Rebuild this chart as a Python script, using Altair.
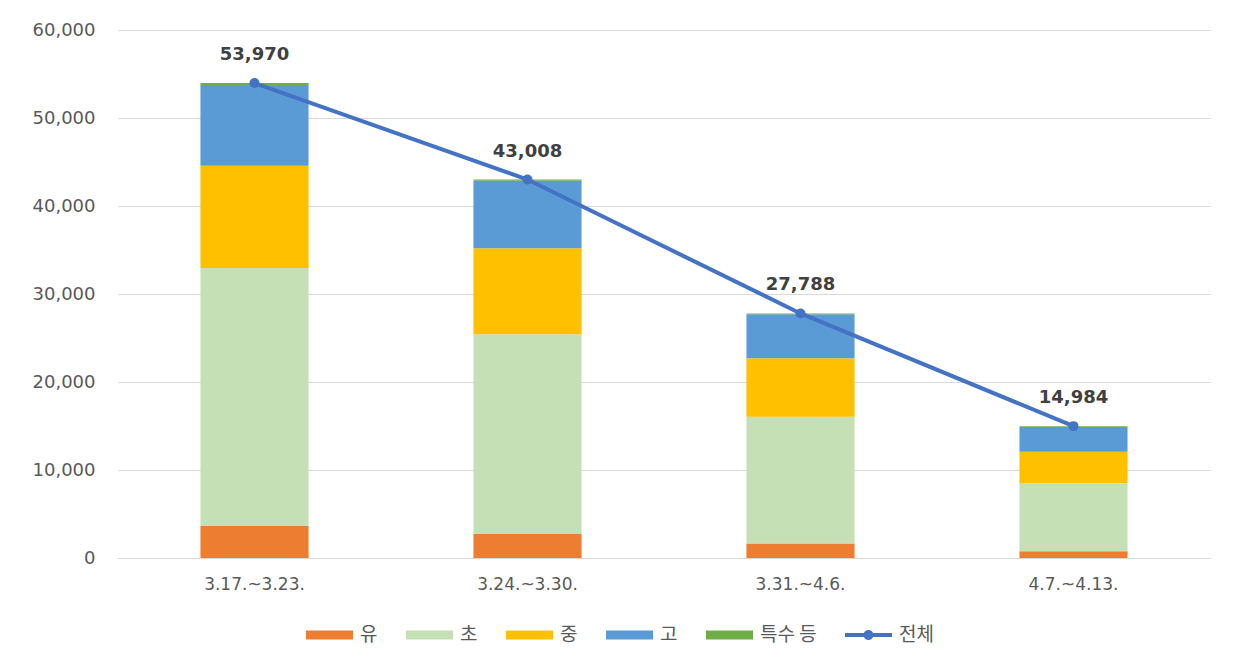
import altair as alt
import pandas as pd

periods = ["3.17.~3.23.", "3.24.~3.30.", "3.31.~4.6.", "4.7.~4.13."]
series = ["유", "초", "중", "고", "특수 등"]
total_name = "전체"
yu = [3640, 2730, 1640, 760]
cho = [29310, 22690, 14420, 7730]
jung = [11630, 9770, 6640, 3590]
go = [9170, 7680, 5000, 2820]
special = [220, 138, 88, 84]
totals = [53970, 43008, 27788, 14984]
y_ticks = [0, 10000, 20000, 30000, 40000, 50000, 60000]

bar_colors = ["#ED7D31", "#C5E0B4", "#FFC000", "#5B9BD5", "#70AD47"]
line_color = "#4472C4"

values_by_series = [yu, cho, jung, go, special]
rows = []
for si, (s, vals) in enumerate(zip(series, values_by_series)):
    for p, v in zip(periods, vals):
        rows.append({"period": p, "series": s, "value": v, "idx": si})
bar_df = pd.DataFrame(rows)
tot_df = pd.DataFrame({"period": periods, "total": totals, "name": [total_name] * len(periods)})
leg_df = pd.DataFrame({"name": series + [total_name]})

FONT = "Noto Sans CJK KR"
NUM_FONT = "DejaVu Sans"
legend_domain = series + [total_name]
color_scale = alt.Scale(domain=legend_domain, range=bar_colors + [line_color])
# legend symbol box is 20px (unit = 10px); paths extend left of the box
rect_path = "M-3.7,-0.45H1V0.45H-3.7Z"
line_path = ("M-3.7,-0.2H1V0.2H-3.7Z "
             "M-1.85,0A0.5,0.5 0 1,1 -0.85,0A0.5,0.5 0 1,1 -1.85,0Z")
shape_scale = alt.Scale(domain=legend_domain, range=[rect_path] * 5 + [line_path])

legend = alt.Legend(
    orient="none", legendX=215, legendY=595, direction="horizontal", title=None,
    symbolSize=400, symbolStrokeWidth=0, symbolOpacity=1,
    labelFontSize=19, labelColor="#595959", labelFont=FONT,
    labelOffset=7, columnPadding=28,
)

x_enc = alt.X(
    "period:N", sort=periods, title=None,
    scale=alt.Scale(paddingInner=0.604, paddingOuter=0.302),
    axis=alt.Axis(labelAngle=0, ticks=False, domain=True, domainColor="#D9D9D9",
                  labelPadding=18, labelFontSize=17, labelColor="#595959",
                  labelFont=NUM_FONT, grid=False),
)
y_scale = alt.Scale(domain=[0, 60000])
y_axis = alt.Axis(values=y_ticks, format=",d", grid=True, gridColor="#D9D9D9",
                  domain=False, ticks=False, labelPadding=23, labelFontSize=18,
                  labelColor="#595959", labelFont=NUM_FONT, title=None)

bars = alt.Chart(bar_df).mark_bar().encode(
    x=x_enc,
    y=alt.Y("value:Q", stack="zero", scale=y_scale, axis=y_axis),
    color=alt.Color("series:N", scale=color_scale, legend=legend),
    order=alt.Order("idx:Q", sort="ascending"),
)

line = alt.Chart(tot_df).mark_line(strokeWidth=4).encode(
    x=alt.X("period:N", sort=periods),
    y=alt.Y("total:Q", scale=y_scale),
    color=alt.Color("name:N", scale=color_scale, legend=legend),
)
points = alt.Chart(tot_df).mark_point(filled=True, size=100, opacity=1).encode(
    x=alt.X("period:N", sort=periods),
    y=alt.Y("total:Q", scale=y_scale),
    color=alt.Color("name:N", scale=color_scale, legend=legend),
)
labels = alt.Chart(tot_df).mark_text(
    fontSize=18, fontWeight="bold", color="#404040", font=NUM_FONT,
    baseline="middle", dy=-28,
).encode(
    x=alt.X("period:N", sort=periods),
    y=alt.Y("total:Q", scale=y_scale),
    text=alt.Text("total:Q", format=","),
)

legend_layer = alt.Chart(leg_df).mark_point(filled=True, size=0, opacity=0).encode(
    x=alt.value(0), y=alt.value(0),
    color=alt.Color("name:N", scale=color_scale, legend=legend),
    shape=alt.Shape("name:N", scale=shape_scale, legend=legend),
)

chart = alt.layer(bars, line, points, labels, legend_layer).properties(
    width=1092, height=528, background="white",
    padding={"left": 24, "top": 13, "right": 10, "bottom": 0},
).configure_view(strokeWidth=0)

chart.save("out.html", embed_options={"renderer": "svg", "actions": False})
